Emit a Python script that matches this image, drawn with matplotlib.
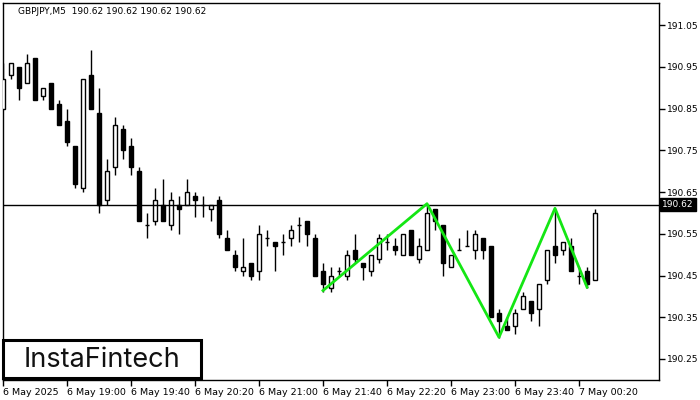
import matplotlib
matplotlib.use("Agg")
import matplotlib.pyplot as plt
import matplotlib.transforms as mtransforms
from matplotlib.patches import Rectangle
import numpy as np

symbol_header = "GBPJPY,M5  190.62 190.62 190.62 190.62"
last_price = 190.62

opens = [190.85, 190.93, 190.95, 190.91, 190.97, 190.88, 190.91, 190.86, 190.82, 190.76,
         190.66, 190.93, 190.84, 190.63, 190.71, 190.80, 190.76, 190.70, 190.57, 190.58,
         190.62, 190.57, 190.62, 190.62, 190.64, 190.62, 190.61, 190.63, 190.54, 190.50,
         190.46, 190.48, 190.46, 190.54, 190.53, 190.53, 190.54, 190.57, 190.58, 190.54,
         190.46, 190.42, 190.46, 190.45, 190.51, 190.48, 190.46, 190.49, 190.53, 190.52,
         190.50, 190.56, 190.49, 190.51, 190.61, 190.57, 190.47, 190.51, 190.52, 190.51,
         190.54, 190.52, 190.36, 190.33, 190.33, 190.37, 190.39, 190.37, 190.44, 190.52,
         190.51, 190.52, 190.45, 190.46, 190.44]
highs = [190.96, 190.96, 190.95, 190.98, 190.97, 190.90, 190.91, 190.87, 190.85, 190.76,
         190.92, 190.99, 190.90, 190.73, 190.83, 190.81, 190.78, 190.71, 190.60, 190.66,
         190.68, 190.65, 190.64, 190.68, 190.65, 190.64, 190.62, 190.64, 190.56, 190.51,
         190.54, 190.48, 190.57, 190.56, 190.53, 190.55, 190.57, 190.59, 190.58, 190.55,
         190.48, 190.47, 190.47, 190.51, 190.55, 190.48, 190.50, 190.55, 190.55, 190.54,
         190.55, 190.56, 190.54, 190.62, 190.61, 190.57, 190.50, 190.54, 190.56, 190.56,
         190.54, 190.52, 190.37, 190.35, 190.37, 190.41, 190.39, 190.43, 190.51, 190.61,
         190.53, 190.54, 190.47, 190.47, 190.61]
lows = [190.85, 190.92, 190.87, 190.91, 190.87, 190.87, 190.85, 190.81, 190.76, 190.66,
        190.65, 190.85, 190.60, 190.62, 190.69, 190.73, 190.69, 190.58, 190.54, 190.57,
        190.58, 190.56, 190.55, 190.62, 190.59, 190.59, 190.58, 190.54, 190.51, 190.46,
        190.45, 190.44, 190.44, 190.52, 190.46, 190.50, 190.52, 190.53, 190.52, 190.45,
        190.41, 190.41, 190.45, 190.44, 190.48, 190.44, 190.45, 190.48, 190.51, 190.50,
        190.50, 190.50, 190.48, 190.51, 190.56, 190.45, 190.47, 190.51, 190.52, 190.49,
        190.49, 190.35, 190.30, 190.32, 190.31, 190.37, 190.34, 190.33, 190.43, 190.48,
        190.50, 190.46, 190.43, 190.42, 190.44]
closes = [190.92, 190.96, 190.90, 190.96, 190.87, 190.90, 190.85, 190.81, 190.77, 190.67,
          190.92, 190.85, 190.62, 190.70, 190.81, 190.75, 190.71, 190.58, 190.57, 190.63,
          190.58, 190.63, 190.61, 190.65, 190.63, 190.62, 190.62, 190.55, 190.51, 190.47,
          190.47, 190.45, 190.55, 190.54, 190.52, 190.53, 190.56, 190.57, 190.55, 190.45,
          190.43, 190.45, 190.46, 190.50, 190.49, 190.47, 190.50, 190.54, 190.53, 190.51,
          190.55, 190.50, 190.52, 190.60, 190.58, 190.48, 190.50, 190.51, 190.52, 190.55,
          190.51, 190.35, 190.34, 190.32, 190.36, 190.40, 190.36, 190.43, 190.51, 190.50,
          190.53, 190.46, 190.45, 190.43, 190.60]

tick_bars = [0, 8, 16, 24, 32, 40, 48, 56, 64, 72]
tick_labels = ["6 May 2025", "6 May 19:00", "6 May 19:40", "6 May 20:20", "6 May 21:00",
               "6 May 21:40", "6 May 22:20", "6 May 23:00", "6 May 23:40", "7 May 00:20"]
price_ticks = [191.05, 190.95, 190.85, 190.75, 190.65, 190.55, 190.45, 190.35, 190.25]

pattern_bars = [40, 53, 62, 69, 73]
pattern_prices = [190.414, 190.622, 190.302, 190.611, 190.422]

W, H = 700, 400
fig = plt.figure(figsize=(7, 4), dpi=100)
ax = fig.add_axes([3 / W, 20 / H, 656 / W, 377 / H])
ax.set_xlim(0, 82)
ax.set_ylim(190.1997, 191.1027)

x = np.arange(len(opens))
o = np.array(opens); h = np.array(highs); l = np.array(lows); c = np.array(closes)
ax.vlines(x, l, h, color="black", linewidth=1, zorder=2)
up = c >= o
bottoms = np.minimum(o, c)
heights = np.abs(c - o)
ax.bar(x[up], heights[up], bottom=bottoms[up], width=0.55, color="white",
       edgecolor="black", linewidth=1, zorder=3)
ax.bar(x[~up], heights[~up], bottom=bottoms[~up], width=0.55, color="black",
       edgecolor="black", linewidth=1, zorder=3)

ax.axhline(last_price, color="black", linewidth=1, zorder=4)
ax.plot(pattern_bars, pattern_prices, color="#14e614", linewidth=2, zorder=5)

for s in ax.spines.values():
    s.set_color("black")
    s.set_linewidth(1)

ax.yaxis.tick_right()
ax.set_yticks(price_ticks, [f"{v:.2f}" for v in price_ticks])
ax.tick_params(axis="y", length=4, width=1, pad=2, labelsize=6.5, colors="black")
ax.set_xticks(tick_bars, tick_labels, ha="left")
ax.tick_params(axis="x", length=4, width=1, pad=2, labelsize=6.8, colors="black")

trans = mtransforms.blended_transform_factory(ax.transAxes, ax.transData)
ax.text(1.005, last_price, f"{last_price:.2f}", transform=trans, color="white",
        fontsize=6.5, va="center", ha="left",
        bbox=dict(boxstyle="square,pad=0.2", facecolor="black", edgecolor="black"))

fig.text(18 / W, 1 - 11 / H, symbol_header, fontsize=6.5, va="center", ha="left",
         color="black")

box = Rectangle((3 / W, 1 - 378 / H), 198 / W, 38 / H, transform=fig.transFigure,
                facecolor="white", edgecolor="black", linewidth=2.2, zorder=10)
fig.add_artist(box)
fig.text(102 / W, 1 - 360 / H, "InstaFintech", fontsize=19.5, family="Inter",
         fontweight="normal", va="center", ha="center", color="#111111", zorder=11)

fig.savefig("out.png", dpi=100)
